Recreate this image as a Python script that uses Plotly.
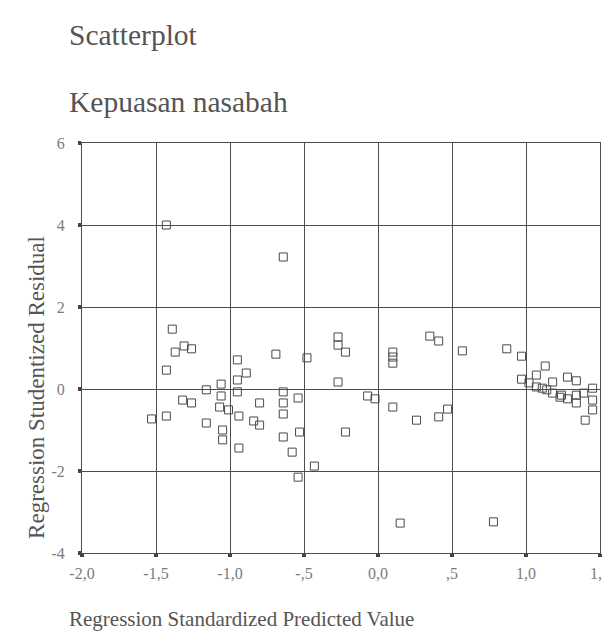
import plotly.graph_objects as go

# Regression standardized predicted value (x) and studentized residual (y)
pred = [-1.43, -0.64, -1.39, -1.37, -1.31, -1.26, -1.43, -1.53, -1.43, -1.32,
        -1.26, -1.16, -1.16, -1.06, -1.06, -1.07, -1.01, -0.94, -1.05, -1.05,
        -0.95, -0.89, -0.95, -0.95, -0.94, -0.80, -0.84, -0.80, -0.69, -0.64,
        -0.64, -0.64, -0.64, -0.58, -0.54, -0.53, -0.43, -0.54, -0.48, -0.27,
        -0.27, -0.22, -0.27, -0.22, -0.07, -0.02, 0.10, 0.10, 0.10, 0.10,
        0.15, 0.26, 0.35, 0.41, 0.41, 0.47, 0.57, 0.78, 0.87, 0.97,
        0.97, 1.02, 1.07, 1.13, 1.07, 1.14, 1.18, 1.18, 1.23, 1.28,
        1.34, 1.28, 1.34, 1.34, 1.39, 1.45, 1.45, 1.45, 1.40, 1.11, 1.24]
resid = [4.00, 3.22, 1.46, 0.90, 1.05, 0.98, 0.46, -0.73, -0.66, -0.27,
         -0.34, -0.02, -0.83, 0.12, -0.17, -0.44, -0.51, -0.66, -1.00, -1.24,
         0.71, 0.39, 0.22, -0.07, -1.44, -0.34, -0.78, -0.88, 0.85, -0.07,
         -0.34, -0.61, -1.17, -1.54, -0.22, -1.05, -1.88, -2.15, 0.76, 1.27,
         1.07, 0.90, 0.17, -1.05, -0.17, -0.24, 0.90, 0.78, 0.63, -0.44,
         -3.27, -0.76, 1.29, 1.17, -0.68, -0.49, 0.93, -3.24, 0.98, 0.80,
         0.24, 0.15, 0.34, 0.56, 0.05, -0.02, 0.17, -0.10, -0.20, 0.29,
         0.20, -0.24, -0.15, -0.34, -0.10, 0.02, -0.27, -0.51, -0.76, 0.02, -0.15]

x_ticks = [-2.0, -1.5, -1.0, -0.5, 0.0, 0.5, 1.0, 1.5]
x_labels = ["-2,0", "-1,5", "-1,0", "-,5", "0,0", ",5", "1,0", "1,5"]
y_ticks = [-4, -2, 0, 2, 4, 6]
y_labels = ["-4", "-2", "0", "2", "4", "6"]

FONT = "Liberation Serif, Times New Roman, serif"
GRID = "#4d4d4d"
TXT = "#555555"

fig = go.Figure()
fig.add_trace(go.Scatter(
    x=pred, y=resid, mode="markers",
    marker=dict(symbol="square-open", size=8, color="#4a4a4a", line=dict(width=1)),
    hoverinfo="x+y", showlegend=False))

axis_common = dict(showgrid=True, gridcolor=GRID, gridwidth=1,
                   showline=True, linecolor=GRID, linewidth=1, mirror=True,
                   zeroline=False, ticks="outside", ticklen=3, tickwidth=4,
                   tickcolor="#444444", tickfont=dict(size=16, color="#7a7a7a"))

fig.update_layout(
    width=610, height=643,
    margin=dict(l=74, r=18, t=135, b=98, autoexpand=False),
    paper_bgcolor="white", plot_bgcolor="white",
    font=dict(family=FONT, color=TXT),
    xaxis=dict(range=[-2.0, 1.5], tickvals=x_ticks, ticktext=x_labels,
               ticklabelstandoff=3, **axis_common),
    yaxis=dict(range=[-4, 6], tickvals=y_ticks, ticktext=y_labels,
               ticklabelstandoff=10, **axis_common),
    annotations=[
        dict(text="Scatterplot", xref="paper", yref="paper", x=-0.029, y=1.263,
             xanchor="left", yanchor="middle", showarrow=False,
             font=dict(family=FONT, size=29.5, color=TXT)),
        dict(text="Kepuasan nasabah", xref="paper", yref="paper", x=-0.029, y=1.10,
             xanchor="left", yanchor="middle", showarrow=False,
             font=dict(family=FONT, size=29.5, color=TXT)),
        dict(text="Regression Standardized Predicted Value", xref="paper", yref="paper",
             x=-0.029, y=-0.16, xanchor="left", yanchor="middle", showarrow=False,
             font=dict(family=FONT, size=21, color=TXT)),
        dict(text="Regression Studentized Residual", xref="paper", yref="paper",
             x=-0.087, y=0.405, xanchor="center", yanchor="middle", showarrow=False,
             textangle=-90, font=dict(family=FONT, size=23, color=TXT)),
    ],
)

fig.write_html("out.html")
